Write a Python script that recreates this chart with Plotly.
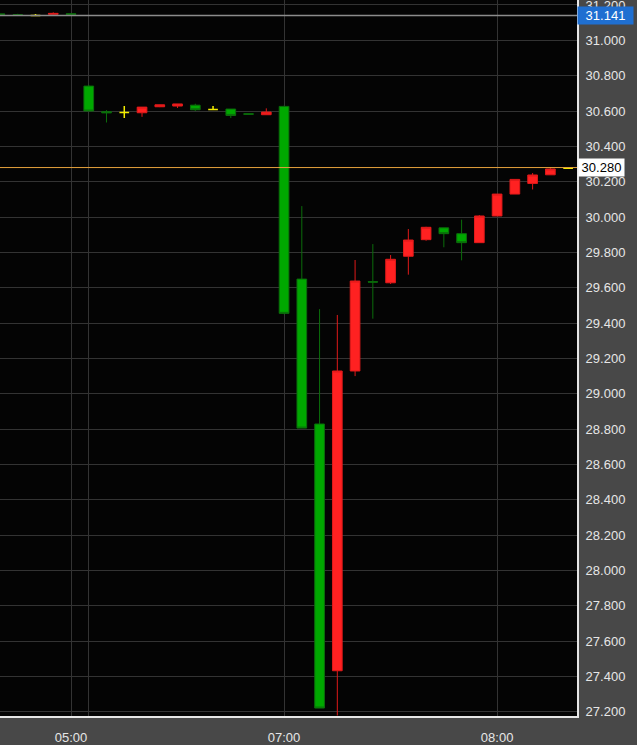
import plotly.graph_objects as go

# ---- data (5-minute candles, index-based time axis) ----
candle_index = list(range(-4, 29))
opens  = [31.149, 31.144, 31.141, 31.147, 31.150,
          30.741, 30.596, 30.592, 30.590, 30.624, 30.628, 30.633, 30.609, 30.611, 30.584, 30.579,
          30.626, 29.649, 28.829, 27.433, 29.129, 29.634, 29.628, 29.778, 29.872, 29.939, 29.906, 29.855,
          30.006, 30.130, 30.190, 30.239, 30.276]
highs  = [31.150, 31.150, 31.149, 31.158, 31.150,
          30.748, 30.605, 30.628, 30.622, 30.636, 30.640, 30.641, 30.628, 30.611, 30.584, 30.615,
          30.630, 30.062, 29.479, 29.446, 29.757, 29.847, 29.785, 29.932, 29.945, 29.940, 29.985, 30.011,
          30.130, 30.213, 30.249, 30.283, 30.276]
lows   = [31.146, 31.141, 31.141, 31.147, 31.147,
          30.600, 30.535, 30.560, 30.567, 30.622, 30.617, 30.600, 30.609, 30.560, 30.582, 30.579,
          29.450, 28.806, 27.222, 27.180, 29.100, 29.425, 29.621, 29.674, 29.866, 29.829, 29.755, 29.855,
          30.006, 30.130, 30.156, 30.239, 30.276]
closes = [31.147, 31.142, 31.141, 31.152, 31.147,
          30.600, 30.590, 30.592, 30.622, 30.635, 30.640, 30.607, 30.609, 30.575, 30.582, 30.594,
          29.455, 28.806, 27.222, 29.129, 29.638, 29.632, 29.761, 29.870, 29.942, 29.906, 29.855, 30.006,
          30.130, 30.213, 30.238, 30.272, 30.276]

prev_close = 31.141
last_price = 30.280

tick_pos = [0, 1, 12, 24]
tick_text = ["05:00", "", "07:00", "08:00"]

# ---- split into directional candles and unchanged (doji) candles ----
move = [i for i in range(len(candle_index)) if opens[i] != closes[i]]
flat = [i for i in range(len(candle_index)) if opens[i] == closes[i]]

def pick(arr, ids):
    return [arr[i] for i in ids]

fig = go.Figure()
fig.add_trace(go.Candlestick(
    x=pick(candle_index, move), open=pick(opens, move), high=pick(highs, move),
    low=pick(lows, move), close=pick(closes, move),
    increasing=dict(fillcolor="#ff2121", line=dict(color="#e01a1a", width=1)),
    decreasing=dict(fillcolor="#00a800", line=dict(color="#0b6e0b", width=1)),
    whiskerwidth=0, showlegend=False, name="",
))
fig.add_trace(go.Candlestick(
    x=pick(candle_index, flat), open=pick(opens, flat), high=pick(highs, flat),
    low=pick(lows, flat), close=pick(closes, flat),
    increasing=dict(fillcolor="#f2ec00", line=dict(color="#f2ec00", width=1.5)),
    decreasing=dict(fillcolor="#f2ec00", line=dict(color="#f2ec00", width=1.5)),
    whiskerwidth=0, showlegend=False, name="",
))

# reference price lines
fig.add_hline(y=prev_close, line=dict(color="#8c8c8c", width=1.5), layer="above")
fig.add_hline(y=last_price, line=dict(color="#e6a23c", width=1), layer="above")

fig.add_annotation(x=1, xref="paper", y=prev_close, yref="y", xanchor="left",
                   text=f"{prev_close:.3f}", showarrow=False, bgcolor="#1f6fd1",
                   font=dict(color="#ffffff", size=13, family="Liberation Sans"),
                   width=53, height=15, borderpad=1, align="center")
fig.add_annotation(x=1, xref="paper", y=last_price, yref="y", xanchor="left", xshift=1,
                   text=f"{last_price:.3f}", showarrow=False, bgcolor="#ffffff",
                   font=dict(color="#000000", size=13, family="Liberation Sans"),
                   width=43, height=15, borderpad=1, align="center")

fig.update_layout(
    width=637, height=745,
    margin=dict(l=0, r=60, t=0, b=29, autoexpand=False),
    paper_bgcolor="#484848", plot_bgcolor="#040404",
    font=dict(family="Liberation Sans", size=13, color="#e6e6e6"),
    boxgap=0.22,
    showlegend=False,
    xaxis=dict(range=[-4.0, 28.5], tickvals=tick_pos, ticktext=tick_text,
               showgrid=True, gridcolor="#333333", gridwidth=1, zeroline=False,
               showline=True, linecolor="#e6e6e6", linewidth=2, automargin=False,
               rangeslider=dict(visible=False), ticks="", ticklabelstandoff=8,
               fixedrange=True),
    yaxis=dict(range=[27.177, 31.228], side="right", dtick=0.2, tick0=27.2,
               tickformat=".3f", showgrid=True, gridcolor="#333333", gridwidth=1,
               zeroline=False, showline=True, linecolor="#e6e6e6", linewidth=2,
               automargin=False, ticks="", ticklabelstandoff=4,
               ticklabeloverflow="allow", fixedrange=True),
)

fig.write_html("out.html", config={"displayModeBar": False},
               post_script="document.body.style.margin='0';document.body.style.background='#484848';")
